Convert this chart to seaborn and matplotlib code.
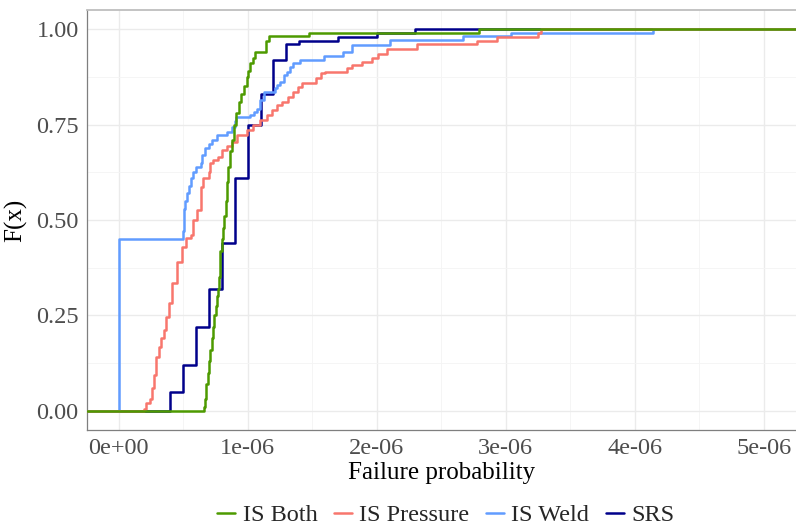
import numpy as np
import pandas as pd
import matplotlib
matplotlib.use("Agg")
import matplotlib.pyplot as plt
import seaborn as sns
from matplotlib.ticker import FixedLocator

methods = ["IS Both", "IS Pressure", "IS Weld", "SRS"]
colors = ["#4D9A00", "#F8766D", "#619CFF", "#00008B"]

# step locations (units of 1e-6) and cumulative F(x) after each step
both_x = [0.660, 0.668, 0.675, 0.681, 0.690, 0.700, 0.711, 0.721, 0.732, 0.742,
          0.751, 0.760, 0.768, 0.775, 0.782, 0.789, 0.800, 0.810, 0.820, 0.830,
          0.840, 0.850, 0.861, 0.875, 0.892, 0.910, 0.930, 0.950, 0.970, 0.995,
          1.005, 1.021, 1.040, 1.060, 1.145, 1.162, 1.472, 2.790]
both_F = [0.010, 0.030, 0.050, 0.070, 0.100, 0.130, 0.160, 0.190, 0.220, 0.250,
          0.275, 0.300, 0.320, 0.350, 0.380, 0.420, 0.450, 0.480, 0.510, 0.550,
          0.600, 0.640, 0.680, 0.710, 0.750, 0.780, 0.810, 0.830, 0.850, 0.875,
          0.890, 0.910, 0.925, 0.940, 0.970, 0.982, 0.990, 1.000]

pres_x = [0.196, 0.210, 0.240, 0.255, 0.273, 0.290, 0.310, 0.330, 0.350, 0.365,
          0.390, 0.410, 0.450, 0.490, 0.520, 0.560, 0.580, 0.610, 0.635, 0.655,
          0.700, 0.705, 0.730, 0.770, 0.800, 0.840, 0.880, 0.920, 0.995, 1.040,
          1.095, 1.147, 1.185, 1.224, 1.263, 1.315, 1.353, 1.392, 1.418, 1.533,
          1.572, 1.598, 1.769, 1.807, 1.885, 1.962, 2.014, 2.079, 2.315, 2.780,
          2.929, 3.250, 3.277]
pres_F = [0.005, 0.020, 0.030, 0.060, 0.095, 0.142, 0.168, 0.190, 0.212, 0.247,
          0.282, 0.334, 0.391, 0.430, 0.452, 0.460, 0.500, 0.526, 0.587, 0.609,
          0.625, 0.648, 0.657, 0.666, 0.683, 0.695, 0.705, 0.723, 0.736, 0.749,
          0.762, 0.775, 0.788, 0.801, 0.810, 0.821, 0.836, 0.849, 0.858, 0.871,
          0.884, 0.888, 0.897, 0.906, 0.914, 0.923, 0.936, 0.948, 0.960, 0.969,
          0.980, 0.991, 1.000]

weld_x = [0.000, 0.500, 0.505, 0.510, 0.515, 0.530, 0.545, 0.560, 0.580, 0.600,
          0.635, 0.647, 0.673, 0.700, 0.725, 0.763, 0.840, 0.879, 0.900, 0.913,
          1.020, 1.047, 1.073, 1.098, 1.124, 1.214, 1.227, 1.252, 1.278, 1.304,
          1.330, 1.355, 1.407, 1.588, 1.742, 1.807, 2.100, 2.666, 3.045, 4.140]
weld_F = [0.450, 0.470, 0.500, 0.530, 0.550, 0.570, 0.590, 0.610, 0.625, 0.640,
          0.650, 0.670, 0.688, 0.700, 0.709, 0.723, 0.731, 0.744, 0.760, 0.770,
          0.775, 0.784, 0.792, 0.814, 0.836, 0.845, 0.853, 0.862, 0.880, 0.888,
          0.901, 0.910, 0.919, 0.929, 0.940, 0.958, 0.971, 0.982, 0.990, 1.000]

srs_x = [0.4, 0.5, 0.6, 0.7, 0.8, 0.9, 1.0, 1.1, 1.2, 1.3, 1.4, 1.7, 2.0, 2.3]
srs_F = [0.05, 0.12, 0.22, 0.32, 0.44, 0.61, 0.75, 0.83, 0.92, 0.96, 0.97, 0.98,
         0.99, 1.00]

xtick_vals = [0, 1e-6, 2e-6, 3e-6, 4e-6, 5e-6]
xtick_labels = ["0e+00", "1e-06", "2e-06", "3e-06", "4e-06", "5e-06"]
ytick_vals = [0, 0.25, 0.5, 0.75, 1.0]
ytick_labels = ["0.00", "0.25", "0.50", "0.75", "1.00"]

series = {"IS Both": (both_x, both_F), "IS Pressure": (pres_x, pres_F),
          "IS Weld": (weld_x, weld_F), "SRS": (srs_x, srs_F)}
rows = []
for name in methods:
    xs, Fs = series[name]
    w = np.diff(np.r_[0.0, Fs])
    for xv, wv in zip(xs, w):
        rows.append({"value": xv * 1e-6, "weight": wv, "method": name})
df = pd.DataFrame(rows)

sns.set_style("white")
plt.rcParams["font.family"] = ["Liberation Serif", "DejaVu Serif"]

fig = plt.figure(figsize=(7.96, 5.25), dpi=100)
ax = fig.add_axes([87 / 796, 1 - 430 / 525, 709 / 796, 420 / 525])

sns.ecdfplot(data=df, x="value", weights="weight", hue="method",
             hue_order=methods, palette=dict(zip(methods, colors)),
             linewidth=1.8, ax=ax)

xmin, xmax = -0.245e-6, 5.25e-6
for ln in ax.lines:
    xd = np.asarray(ln.get_xdata(), dtype=float)
    yd = np.asarray(ln.get_ydata(), dtype=float)
    xd = np.where(np.isfinite(xd), xd, xmin)
    ln.set_data(np.r_[xd, xmax], np.r_[yd, yd[-1]])
    ln.set_zorder(3)

ax.set_xlim(xmin, xmax)
ax.set_ylim(-0.05, 1.05)
ax.xaxis.set_major_locator(FixedLocator(xtick_vals))
ax.set_xticklabels(xtick_labels)
ax.yaxis.set_major_locator(FixedLocator(ytick_vals))
ax.set_yticklabels(ytick_labels)
ax.xaxis.set_minor_locator(FixedLocator([0.5e-6, 1.5e-6, 2.5e-6, 3.5e-6, 4.5e-6]))
ax.yaxis.set_minor_locator(FixedLocator([0.125, 0.375, 0.625, 0.875]))

ax.grid(True, which="major", color="#EBEBEB", linewidth=1.0)
ax.grid(True, which="minor", color="#F4F4F4", linewidth=0.6)
ax.set_axisbelow(True)

ax.tick_params(axis="both", which="major", labelsize=17.5, colors="#4D4D4D",
               length=4, width=0.8, direction="out", pad=2)
ax.tick_params(axis="both", which="minor", length=0)
for lab in ax.get_xticklabels() + ax.get_yticklabels():
    lab.set_color("#4D4D4D")

ax.spines["top"].set_color("#BEBEBE")
ax.spines["top"].set_linewidth(1.3)
ax.spines["right"].set_visible(False)
ax.spines["left"].set_color("#7F7F7F")
ax.spines["bottom"].set_color("#7F7F7F")
ax.spines["left"].set_linewidth(0.9)
ax.spines["bottom"].set_linewidth(0.9)

ax.set_xlabel("Failure probability", fontsize=18, color="black", labelpad=2)
ax.set_ylabel("F(x)", fontsize=18, color="black", labelpad=6)

sns.move_legend(ax, "center", bbox_to_anchor=(0.506, -0.203), ncol=4,
                title=None, frameon=False, fontsize=17.5, handlelength=0.75,
                handletextpad=0.3, columnspacing=0.68)

fig.savefig("out.png", dpi=100)
